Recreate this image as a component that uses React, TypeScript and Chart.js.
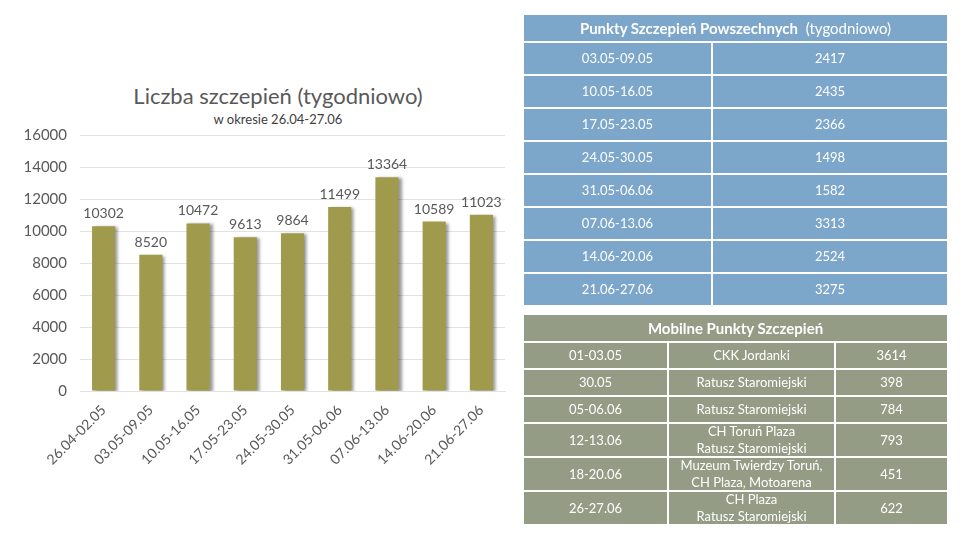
import React, { useEffect, useRef } from "react";
import { Chart, registerables } from "chart.js";

Chart.register(...registerables);

const weeks = ["26.04-02.05", "03.05-09.05", "10.05-16.05", "17.05-23.05", "24.05-30.05", "31.05-06.06", "07.06-13.06", "14.06-20.06", "21.06-27.06"];
const vaccinations = [10302, 8520, 10472, 9613, 9864, 11499, 13364, 10589, 11023];
const yTicks = [0, 2000, 4000, 6000, 8000, 10000, 12000, 14000, 16000];

const chartTitle = "Liczba szczepień (tygodniowo)";
const chartSubtitle = "w okresie 26.04-27.06";

const psWeeks = ["03.05-09.05", "10.05-16.05", "17.05-23.05", "24.05-30.05", "31.05-06.06", "07.06-13.06", "14.06-20.06", "21.06-27.06"];
const psValues = [2417, 2435, 2366, 1498, 1582, 3313, 2524, 3275];

const mpDates = ["01-03.05", "30.05", "05-06.06", "12-13.06", "18-20.06", "26-27.06"];
const mpPlaces = [["CKK Jordanki"], ["Ratusz Staromiejski"], ["Ratusz Staromiejski"], ["CH Toruń Plaza", "Ratusz Staromiejski"], ["Muzeum Twierdzy Toruń,", "CH Plaza, Motoarena"], ["CH Plaza", "Ratusz Staromiejski"]];
const mpValues = [3614, 398, 784, 793, 451, 622];

const FONT = "Lato, 'DejaVu Sans', sans-serif";
const BLUE = "#7DA6CB";
const GREEN = "#959C86";

const barDecor = {
  id: "barDecor",
  beforeDatasetsDraw(chart: any) {
    const ctx = chart.ctx;
    ctx.save();
    ctx.shadowColor = "rgba(0,0,0,0.4)";
    ctx.shadowOffsetX = 3;
    ctx.shadowOffsetY = 1;
    ctx.shadowBlur = 3;
  },
  afterDatasetsDraw(chart: any) {
    const ctx = chart.ctx;
    ctx.restore();
    ctx.save();
    ctx.font = `14px ${FONT}`;
    ctx.fillStyle = "#595959";
    ctx.textAlign = "center";
    ctx.textBaseline = "alphabetic";
    const meta = chart.getDatasetMeta(0);
    meta.data.forEach((el: any, i: number) => {
      ctx.fillText(String(chart.data.datasets[0].data[i]), el.x, el.y - 8);
    });
    ctx.restore();
  },
};

function BarChart() {
  const ref = useRef<HTMLCanvasElement>(null);
  useEffect(() => {
    if (!ref.current) return;
    const chart = new Chart(ref.current, {
      type: "bar",
      data: {
        labels: weeks,
        datasets: [
          {
            data: vaccinations,
            backgroundColor: "#A09A4C",
            barPercentage: 0.49,
            categoryPercentage: 1,
          },
        ],
      },
      options: {
        animation: false,
        responsive: false,
        devicePixelRatio: 1,
        layout: { padding: { left: 0, right: 51, top: 20, bottom: 0 } },
        plugins: {
          legend: { display: false },
          tooltip: { enabled: false },
          title: { display: false },
        },
        scales: {
          y: {
            min: 0,
            max: 16000,
            afterBuildTicks: (s: any) => {
              s.ticks = yTicks.map((v) => ({ value: v }));
            },
            afterFit: (s: any) => {
              s.width = 80;
            },
            ticks: {
              color: "#595959",
              font: { family: FONT, size: 15 },
              padding: 13,
              callback: (v: any) => String(v),
            },
            grid: { color: "#E2E2E2", drawTicks: false },
            border: { display: false },
          },
          x: {
            afterFit: (s: any) => {
              s.height = 90;
            },
            ticks: {
              color: "#595959",
              font: { family: FONT, size: 14 },
              minRotation: 45,
              maxRotation: 45,
              padding: 3,
            },
            grid: { display: false },
            border: { display: true, color: "#E2E2E2" },
          },
        },
      },
      plugins: [barDecor],
    });
    return () => chart.destroy();
  }, []);
  return <canvas ref={ref} width={556} height={368} style={{ position: "absolute", left: 0, top: 113 }} />;
}

const cellBase: React.CSSProperties = {
  display: "flex",
  alignItems: "center",
  justifyContent: "center",
  color: "#FFFFFF",
  fontSize: 13,
  textAlign: "center",
  lineHeight: "17px",
};

export default function App() {
  return (
    <div style={{ position: "fixed", left: 0, top: 0, width: 960, height: 540, background: "#fff", fontFamily: FONT, overflow: "hidden" }}>
      <div style={{ position: "absolute", left: 0, width: 556, top: 83, textAlign: "center", fontSize: 22, lineHeight: "26.4px", color: "#595959", whiteSpace: "nowrap" }}>
        {chartTitle}
      </div>
      <div style={{ position: "absolute", left: 0, width: 556, top: 112, textAlign: "center", fontSize: 13, lineHeight: "15.6px", color: "#404040", whiteSpace: "nowrap" }}>
        {chartSubtitle}
      </div>
      <BarChart />
      <div
        style={{
          position: "absolute",
          left: 524,
          top: 15,
          width: 423,
          display: "grid",
          gridTemplateColumns: "187px 234px",
          gridTemplateRows: `26px repeat(${psWeeks.length}, 31px)`,
          gap: 2,
        }}
      >
        <div style={{ ...cellBase, gridColumn: "1 / span 2", background: BLUE, fontSize: 15 }}>
          <span style={{ fontWeight: 700 }}>Punkty Szczepień Powszechnych</span>
          <span>&nbsp;&nbsp;(tygodniowo)</span>
        </div>
        {psWeeks.map((w, i) => (
          <React.Fragment key={w}>
            <div style={{ ...cellBase, background: BLUE }}>{w}</div>
            <div style={{ ...cellBase, background: BLUE }}>{psValues[i]}</div>
          </React.Fragment>
        ))}
      </div>
      <div
        style={{
          position: "absolute",
          left: 524,
          top: 315,
          width: 423,
          display: "grid",
          gridTemplateColumns: "143px 165px 111px",
          gridTemplateRows: "26px 25px 25px 25px 32px 32px 32px",
          gap: 2,
        }}
      >
        <div style={{ ...cellBase, gridColumn: "1 / span 3", background: GREEN, fontSize: 15, fontWeight: 700 }}>Mobilne Punkty Szczepień</div>
        {mpDates.map((d, i) => (
          <React.Fragment key={d + i}>
            <div style={{ ...cellBase, background: GREEN }}>{d}</div>
            <div style={{ ...cellBase, background: GREEN, flexDirection: "column" }}>
              {mpPlaces[i].map((p) => (
                <div key={p}>{p}</div>
              ))}
            </div>
            <div style={{ ...cellBase, background: GREEN }}>{mpValues[i]}</div>
          </React.Fragment>
        ))}
      </div>
    </div>
  );
}
